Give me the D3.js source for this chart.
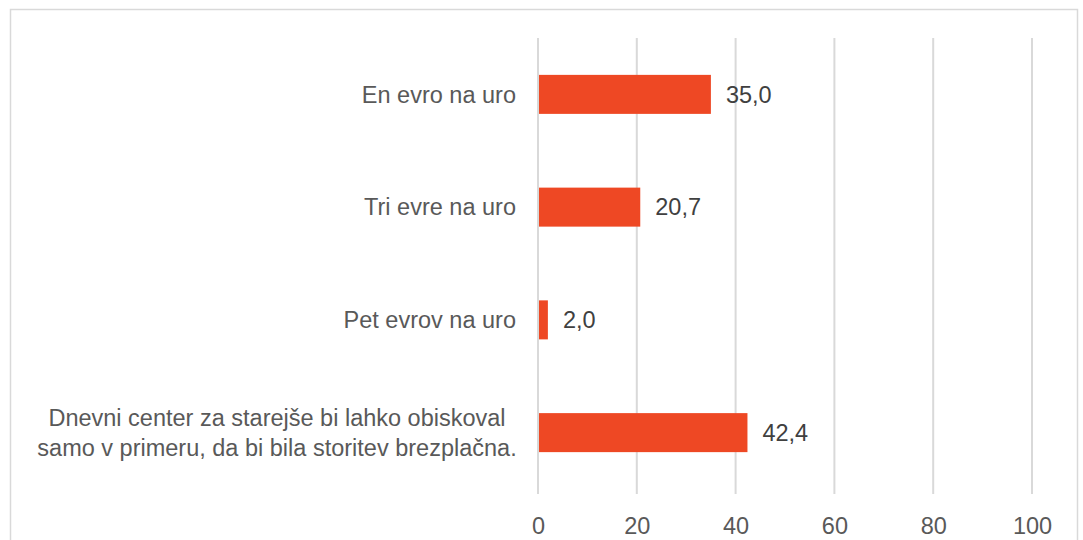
<!DOCTYPE html>
<html><head><meta charset="utf-8">
<script src="https://cdn.jsdelivr.net/npm/d3@7"></script>
<style>body{margin:0;background:#fff}svg{display:block}</style>
</head><body>
<script>
const categories = [
  ["En evro na uro"],
  ["Tri evre na uro"],
  ["Pet evrov na uro"],
  ["Dnevni center za starejše bi lahko obiskoval", "samo v primeru, da bi bila storitev brezplačna."]
];
const values = [35.0, 20.7, 2.0, 42.4];
const tickValues = [0, 20, 40, 60, 80, 100];

const W = 1083, H = 540;
const svg = d3.select("body").append("svg").attr("width", W).attr("height", H);
const font = "Liberation Sans, Arial, sans-serif";
const fs = 23.5;

svg.append("rect").attr("x", 10.5).attr("y", 9.5).attr("width", 1067).attr("height", 560)
  .attr("fill", "none").attr("stroke", "#d9d9d9").attr("stroke-width", 1.5);

const x = d3.scaleLinear().domain([0, 100]).range([538, 1032]);
const y = d3.scaleBand().domain(d3.range(categories.length)).range([38, 489])
  .paddingInner(0.654).paddingOuter(0.327);

const gTop = 38, gBot = 494;
svg.append("g").selectAll("line").data(tickValues).join("line")
  .attr("x1", d => x(d)).attr("x2", d => x(d)).attr("y1", gTop).attr("y2", gBot)
  .attr("stroke", "#d9d9d9").attr("stroke-width", 2);

const xAxis = d3.axisBottom(x).tickValues(tickValues).tickSize(0).tickPadding(0);
const ax = svg.append("g").attr("transform", `translate(0,${gBot})`).call(xAxis);
ax.select(".domain").remove();
ax.selectAll("text").attr("font-family", font).attr("font-size", fs).attr("fill", "#595959")
  .attr("dy", null).attr("y", 40);

svg.append("g").selectAll("rect").data(values).join("rect")
  .attr("x", x(0) + 1).attr("y", (d, i) => y(i)).attr("width", d => x(d) - x(0) - 1)
  .attr("height", y.bandwidth()).attr("fill", "#EE4824");

svg.append("g").selectAll("text").data(values).join("text")
  .attr("x", d => x(d) + 15).attr("y", (d, i) => y(i) + y.bandwidth() / 2)
  .attr("dy", "0.35em").attr("font-family", font).attr("font-size", fs).attr("fill", "#404040")
  .text(d => d.toFixed(1).replace(".", ","));

const lab = svg.append("g").selectAll("text").data(categories).join("text")
  .attr("text-anchor", "middle").attr("font-family", font).attr("font-size", fs).attr("fill", "#595959")
  .attr("y", (d, i) => y(i) + y.bandwidth() / 2);
lab.each(function(d) {
  const t = d3.select(this);
  const n = d.length, lh = 30;
  if (n === 1) t.attr("text-anchor", "end");
  d.forEach((line, k) => {
    t.append("tspan").attr("x", n === 1 ? 516 : 277)
      .attr("y", +t.attr("y") + (k - (n - 1) / 2) * lh).attr("dy", "0.35em").text(line);
  });
});
</script>
</body></html>
